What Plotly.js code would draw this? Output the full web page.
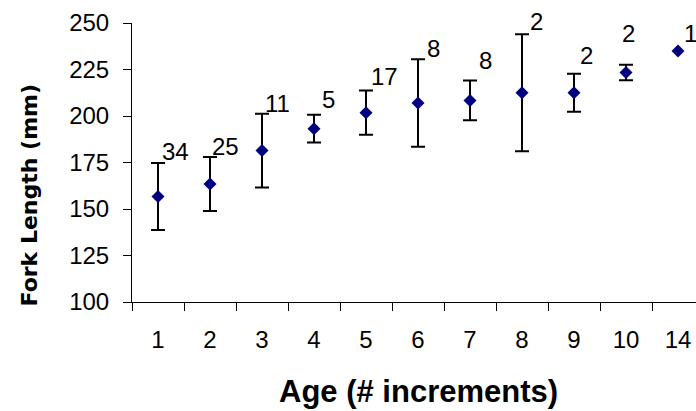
<!DOCTYPE html>
<html>
<head>
<meta charset="utf-8">
<script src="https://cdn.plot.ly/plotly-3.0.1.min.js"></script>
<style>
html, body { margin: 0; padding: 0; overflow: hidden; background: #ffffff; }
#chart { width: 704px; height: 411px; }
</style>
</head>
<body>
<div id="chart"></div>
<script>
// Data
const ages = ['1', '2', '3', '4', '5', '6', '7', '8', '9', '10', '14'];
const meanFL = [156.7, 163.4, 181.4, 193.2, 201.8, 207.0, 208.4, 212.5, 212.5, 223.4, 235.0];
const sdFL = [18.0, 14.5, 19.8, 7.5, 11.9, 23.5, 10.7, 31.5, 10.2, 4.2, null];
const sampleN = [34, 25, 11, 5, 17, 8, 8, 2, 2, 2, 1];
const yTicks = [100, 125, 150, 175, 200, 225, 250];

// label nudges (pixels) relative to the top of each error bar
const labelDx = [2, 0, 1, 6, 3, 7, 7, 6, 4, -6, 4];
const labelDy = [12, 10.6, 10, 15.7, 13.6, 10.7, 20.3, 13, 18, 31.4, 17.7];

const FONT = 'Liberation Sans, Arial, sans-serif';

const errArr = sdFL.map(v => (v === null ? NaN : v));

const trace = {
  type: 'scatter',
  mode: 'markers',
  x: ages,
  y: meanFL,
  marker: { symbol: 'diamond', size: 10, color: '#000080', line: { width: 0 } },
  error_y: { type: 'data', array: errArr, visible: true, color: '#000000', thickness: 2, width: 7 },
  hoverinfo: 'x+y'
};

const annotations = ages.map((a, i) => {
  const top = meanFL[i] + (sdFL[i] === null ? 0 : sdFL[i]);
  return {
    x: i, y: top, xref: 'x', yref: 'y',
    text: String(sampleN[i]), showarrow: false,
    xanchor: 'left', yanchor: 'middle',
    xshift: labelDx[i], yshift: labelDy[i],
    font: { family: FONT, size: 24, color: '#000000' }
  };
});

annotations.push({
  text: '<b>Age (# increments)</b>', showarrow: false,
  xref: 'paper', yref: 'paper', x: 0.5, y: 0,
  xanchor: 'center', yanchor: 'top', yshift: -70,
  font: { family: FONT, size: 31, color: '#000000' }
});
annotations.push({
  text: '<b>Fork Length (mm)</b>', showarrow: false, textangle: -90,
  xref: 'paper', yref: 'paper', x: 0, y: 0.5,
  xanchor: 'center', yanchor: 'middle', xshift: -103, yshift: -33,
  font: { family: 'DejaVu Sans, sans-serif', size: 22, color: '#000000' }
});

const layout = {
  width: 704, height: 411,
  margin: { l: 132, r: 0, t: 22.7, b: 108.5, pad: 0 },
  paper_bgcolor: '#ffffff', plot_bgcolor: '#ffffff',
  showlegend: false,
  font: { family: FONT, size: 24, color: '#000000' },
  xaxis: {
    type: 'category', range: [-0.5, 10.5], tickson: 'boundaries',
    ticks: 'outside', ticklen: 8, tickwidth: 1, tickcolor: '#000000',
    showline: true, linecolor: '#000000', linewidth: 1,
    showgrid: false, zeroline: false, fixedrange: true,
    tickfont: { family: FONT, size: 24, color: '#000000' },
    ticklabelstandoff: 16
  },
  yaxis: {
    range: [100, 250], tickvals: yTicks, ticktext: yTicks.map(String),
    ticks: 'outside', ticklen: 8, tickwidth: 1, tickcolor: '#000000',
    showline: true, linecolor: '#000000', linewidth: 1,
    showgrid: false, zeroline: false, fixedrange: true,
    tickfont: { family: FONT, size: 24, color: '#000000' },
    ticklabelstandoff: 9
  },
  annotations: annotations
};

Plotly.newPlot('chart', [trace], layout, { displayModeBar: false, staticPlot: true });
</script>
</body>
</html>
